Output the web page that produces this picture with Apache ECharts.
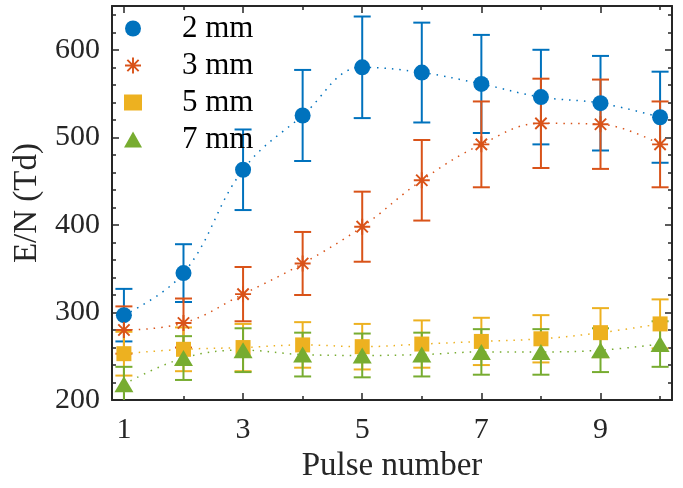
<!DOCTYPE html>
<html>
<head>
<meta charset="utf-8" />
<title>E/N vs pulse number</title>
<script src="https://cdn.jsdelivr.net/npm/echarts@6/dist/echarts.min.js"></script>
</head>
<body style="margin:0;">
<div id="chart" style="width:683px;height:488px;"></div>
<script>
// values
var pulses = [1, 2, 3, 4, 5, 6, 7, 8, 9, 10];
var en2 = [297, 345, 463, 525, 580, 574, 561, 546, 539, 523];
var err2 = [30, 33, 46, 52, 58, 57, 56, 54, 54, 52];
var en3 = [280, 288, 321, 356, 398, 451, 492, 516, 515, 492];
var err3 = [27, 28, 31, 36, 40, 46, 49, 51, 51, 49];
var en5 = [253, 258, 260, 263, 261, 264, 267, 270, 277, 287];
var err5 = [25, 25, 27, 26, 26, 27, 27, 27, 28, 28];
var en7 = [218, 248, 257, 252, 251, 252, 255, 255, 257, 264];
var err7 = [20, 25, 25, 25, 25, 25, 26, 26, 25, 26];

var xLabels = [1, 3, 5, 7, 9];
var xMinor = [2, 4, 6, 8, 10];
var yLabels = [200, 300, 400, 500, 600];
var yMinor = [220, 240, 260, 280, 320, 340, 360, 380, 420, 440, 460, 480, 520, 540, 560, 580, 620, 640];

var font = "'Liberation Serif', 'Times New Roman', serif";
var axisColor = '#262626';

// asterisk made of four thin bars
var star = 'path://M-0.12,-1 L0.12,-1 L0.12,1 L-0.12,1 Z ' +
  'M-1,-0.12 L1,-0.12 L1,0.12 L-1,0.12 Z ' +
  'M0.622,-0.792 L0.792,-0.622 L-0.622,0.792 L-0.792,0.622 Z ' +
  'M-0.792,-0.622 L-0.622,-0.792 L0.792,0.622 L0.622,0.792 Z';

var groups = [
  {name: '2 mm', y: en2, e: err2, color: '#0072BD', symbol: 'circle', size: 16},
  {name: '3 mm', y: en3, e: err3, color: '#D95319', symbol: star, size: 16},
  {name: '5 mm', y: en5, e: err5, color: '#EDB120', symbol: 'rect', size: 15},
  {name: '7 mm', y: en7, e: err7, color: '#77AC30', symbol: 'triangle', size: [19, 16]}
];

function errBar(params, api) {
  var x = api.value(0);
  var top = api.coord([x, api.value(2)]);
  var bot = api.coord([x, api.value(1)]);
  var w = 8.5;
  var st = {stroke: api.visual('color'), lineWidth: 2};
  return {
    type: 'group',
    children: [
      {type: 'line', shape: {x1: top[0], y1: top[1], x2: bot[0], y2: bot[1]}, style: st},
      {type: 'line', shape: {x1: top[0] - w, y1: top[1], x2: top[0] + w, y2: top[1]}, style: st},
      {type: 'line', shape: {x1: bot[0] - w, y1: bot[1], x2: bot[0] + w, y2: bot[1]}, style: st}
    ]
  };
}

var series = [];
groups.forEach(function (g) {
  series.push({
    name: g.name + ' err',
    type: 'custom',
    clip: true,
    renderItem: errBar,
    itemStyle: {color: g.color},
    encode: {x: 0, y: [1, 2]},
    data: pulses.map(function (p, i) { return [p, g.y[i] - g.e[i], g.y[i] + g.e[i]]; })
  });
  series.push({
    name: g.name,
    type: 'line',
    smooth: 0.4,
    symbol: g.symbol,
    symbolSize: g.size,
    showAllSymbol: true,
    itemStyle: {color: g.color, borderWidth: 0},
    lineStyle: {color: g.color, width: 1.5, type: [1.5, 6]},
    data: pulses.map(function (p, i) { return [p, g.y[i]]; })
  });
});

function xAx(pos, vals, len, main) {
  return {
    type: 'value', position: pos, min: 0.8, max: 10.2,
    axisLine: {show: main, onZero: false, lineStyle: {color: axisColor, width: 2}},
    axisTick: {show: true, inside: true, length: len, customValues: vals, lineStyle: {color: axisColor, width: 1.5}},
    axisLabel: {show: false},
    splitLine: {show: false}
  };
}
function yAx(pos, vals, len, main) {
  return {
    type: 'value', position: pos, min: 200, max: 650,
    axisLine: {show: main, onZero: false, lineStyle: {color: axisColor, width: 2}},
    axisTick: {show: true, inside: true, length: len, customValues: vals, lineStyle: {color: axisColor, width: 1.5}},
    axisLabel: {show: false},
    splitLine: {show: false}
  };
}

var xAxes = [xAx('bottom', xLabels, 7, true), xAx('bottom', xMinor, 4, false),
             xAx('top', xLabels, 7, true), xAx('top', xMinor, 4, false)];
xAxes[0].axisLabel = {show: true, customValues: xLabels, margin: 15, fontSize: 30, fontFamily: font, color: axisColor};
xAxes[0].name = 'Pulse number';
xAxes[0].nameLocation = 'middle';
xAxes[0].nameGap = 49;
xAxes[0].nameTextStyle = {fontSize: 33, fontFamily: font, color: axisColor};

var yAxes = [yAx('left', yLabels, 7, true), yAx('left', yMinor, 4, false),
             yAx('right', yLabels, 7, true), yAx('right', yMinor, 4, false)];
yAxes[0].axisLabel = {show: true, customValues: yLabels, margin: 12, fontSize: 30, fontFamily: font, color: axisColor};
yAxes[0].name = 'E/N (Td)';
yAxes[0].nameLocation = 'middle';
yAxes[0].nameGap = 66;
yAxes[0].nameTextStyle = {fontSize: 33, fontFamily: font, color: axisColor};

var myChart = echarts.init(document.getElementById('chart'), null, {renderer: 'canvas'});
myChart.setOption({
  animation: false,
  backgroundColor: '#ffffff',
  grid: {left: 112, right: 11, top: 6, bottom: 86},
  legend: {
    orient: 'vertical', left: 124, top: 13, padding: 0,
    itemWidth: 18, itemHeight: 16, itemGap: 6,
    itemStyle: {borderWidth: 0},
    textStyle: {fontSize: 31, fontFamily: font, color: '#000', lineHeight: 31, padding: [0, 0, 0, 35]},
    data: [
      {name: '2 mm', icon: 'circle'},
      {name: '3 mm', icon: star},
      {name: '5 mm', icon: 'rect'},
      {name: '7 mm', icon: 'triangle'}
    ]
  },
  xAxis: xAxes,
  yAxis: yAxes,
  series: series
});
window.addEventListener('resize', myChart.resize);
</script>
</body>
</html>
